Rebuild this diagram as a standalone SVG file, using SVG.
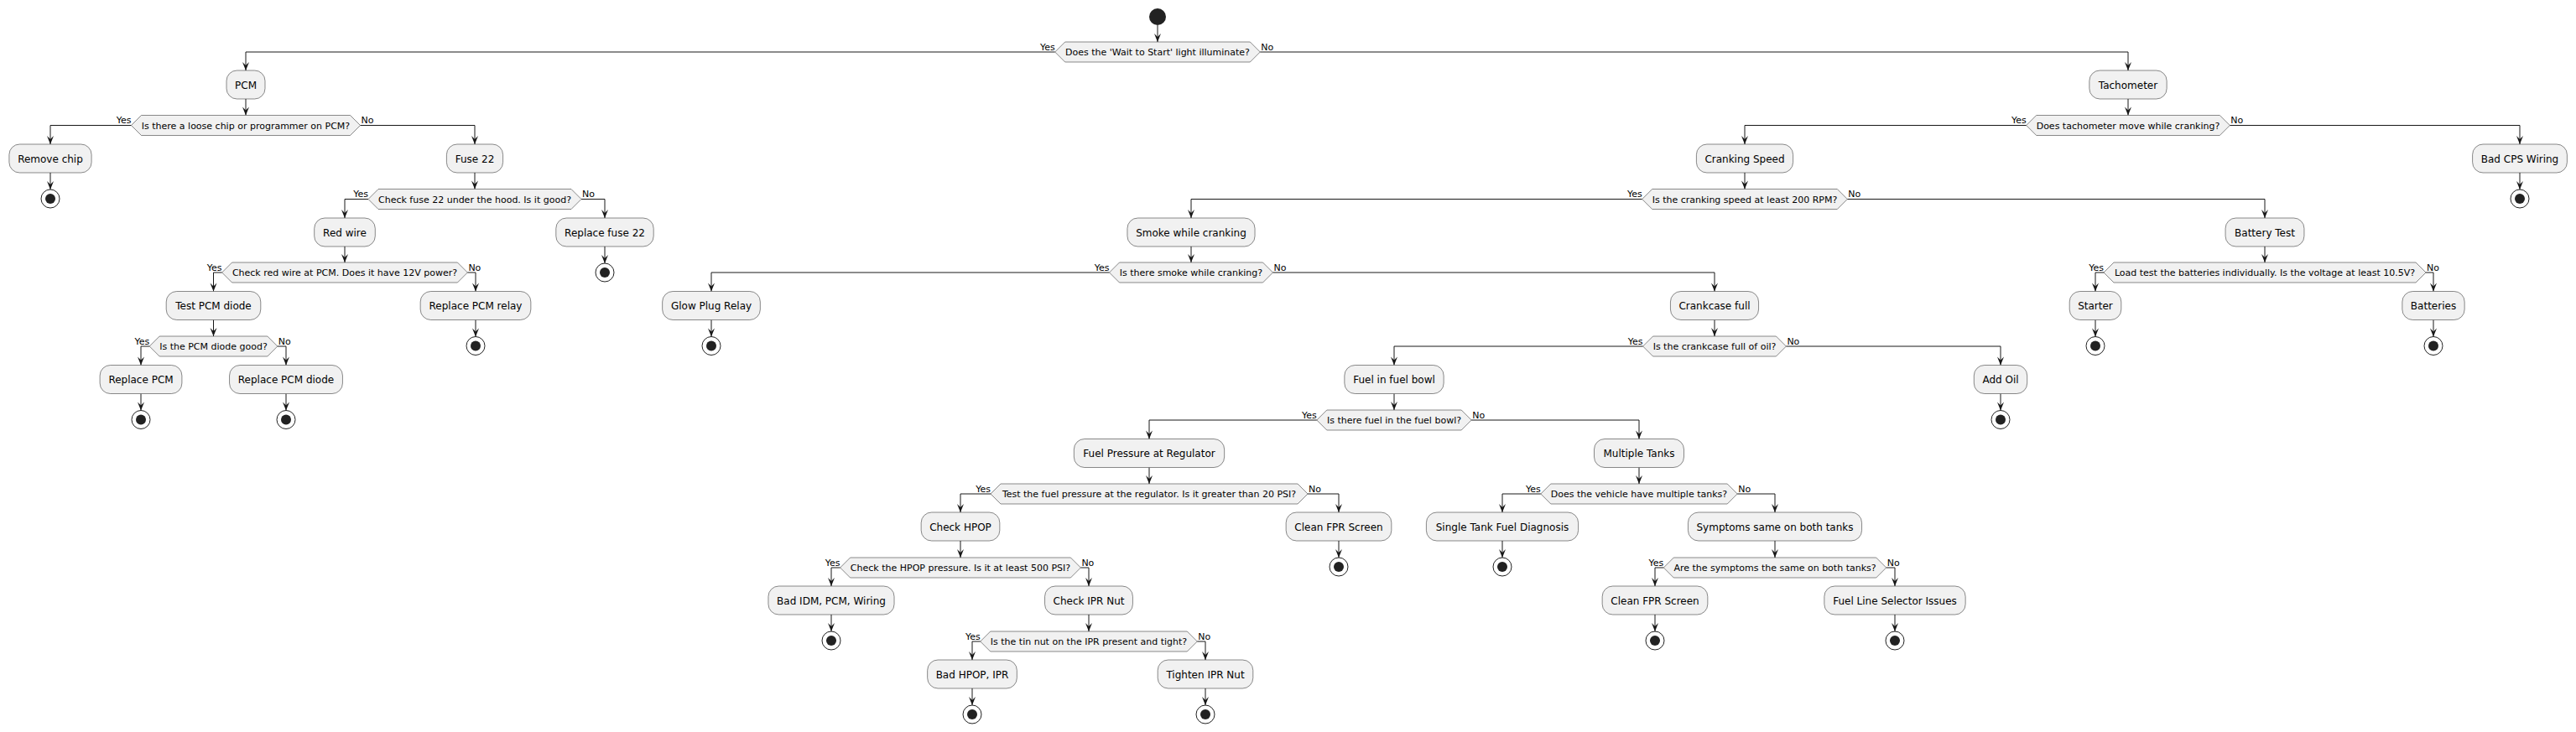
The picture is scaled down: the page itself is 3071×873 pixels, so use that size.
<svg xmlns="http://www.w3.org/2000/svg" width="3071" height="873" viewBox="0 0 3071 873">
<style>
.bx{fill:#F1F1F1;stroke:#181818;stroke-width:0.5}
.dm{fill:#F1F1F1;stroke:#181818;stroke-width:0.5}
.t{font-family:"DejaVu Sans","Liberation Sans",sans-serif;font-size:12px;fill:#000;text-anchor:middle}
.d{font-family:"DejaVu Sans","Liberation Sans",sans-serif;font-size:11px;fill:#000;text-anchor:middle}
.y{font-family:"DejaVu Sans","Liberation Sans",sans-serif;font-size:11px;fill:#000;text-anchor:end}
.n{font-family:"DejaVu Sans","Liberation Sans",sans-serif;font-size:11px;fill:#000;text-anchor:start}
.ln{fill:none;stroke:#181818;stroke-width:1;marker-end:url(#ah)}
.eo{fill:none;stroke:#222222;stroke-width:1}
.ei{fill:#222222}
</style>
<defs>
<marker id="ah" markerUnits="userSpaceOnUse" markerWidth="12" markerHeight="10" viewBox="-11 -5 12 10" refX="0" refY="0" orient="auto">
<path d="M0,0 L-10,-4 L-6,0 L-10,4 Z" fill="#181818"/>
</marker>
</defs>
<rect width="3071" height="873" fill="#FFFFFF"/>

<g id="connectors">
<path class="ln" d="M1380,30 V50"/>
<path class="ln" d="M1257.7,62 H293 V84"/><path class="ln" d="M1502.3,62 H2537 V84"/>
<path class="ln" d="M293,118 V137.5"/>
<path class="ln" d="M156.5,149.5 H60 V172"/><path class="ln" d="M429.5,149.5 H566 V172"/>
<path class="ln" d="M60,206 V226"/>
<path class="ln" d="M566,206 V225.5"/>
<path class="ln" d="M439,237.5 H411 V260"/><path class="ln" d="M693,237.5 H721 V260"/>
<path class="ln" d="M721,294 V314"/>
<path class="ln" d="M411,294 V313"/>
<path class="ln" d="M264.6,325 H254.5 V347.5"/><path class="ln" d="M557.4,325 H567 V347.5"/>
<path class="ln" d="M254.5,381.5 V401"/>
<path class="ln" d="M567,381.5 V401.5"/>
<path class="ln" d="M178.2,413 H168 V435.5"/><path class="ln" d="M330.8,413 H341 V435.5"/>
<path class="ln" d="M168,469.5 V489.5"/><path class="ln" d="M341,469.5 V489.5"/>
<path class="ln" d="M2537,118 V137.5"/>
<path class="ln" d="M2415.7,149.5 H2080 V172"/><path class="ln" d="M2658.3,149.5 H3004 V172"/>
<path class="ln" d="M3004,206 V226"/>
<path class="ln" d="M2080,206 V225.5"/>
<path class="ln" d="M1957.7,237.5 H1420 V260"/><path class="ln" d="M2202.3,237.5 H2700 V260"/>
<path class="ln" d="M1420,294 V313"/>
<path class="ln" d="M1322.5,325 H848 V347.5"/><path class="ln" d="M1517.5,325 H2044 V347.5"/>
<path class="ln" d="M2700,294 V313"/>
<path class="ln" d="M2508,325 H2498 V347.5"/><path class="ln" d="M2892,325 H2901 V347.5"/>
<path class="ln" d="M848,381.5 V401.5"/><path class="ln" d="M2498,381.5 V401.5"/><path class="ln" d="M2901,381.5 V401.5"/>
<path class="ln" d="M2044,381.5 V401"/>
<path class="ln" d="M1958.6,413 H1662 V435.5"/><path class="ln" d="M2129.4,413 H2385 V435.5"/>
<path class="ln" d="M2385,469.5 V489.5"/>
<path class="ln" d="M1662,469.5 V489"/>
<path class="ln" d="M1569.8,501 H1370 V523.5"/><path class="ln" d="M1754.2,501 H1954 V523.5"/>
<path class="ln" d="M1370,557.5 V577"/>
<path class="ln" d="M1181,589 H1145 V611"/><path class="ln" d="M1559,589 H1596 V611"/>
<path class="ln" d="M1954,557.5 V577"/>
<path class="ln" d="M1836.8,589 H1791 V611"/><path class="ln" d="M2071.2,589 H2116 V611"/>
<path class="ln" d="M1596,645 V665"/><path class="ln" d="M1791,645 V665"/>
<path class="ln" d="M1145,645 V665"/>
<path class="ln" d="M1001.6,677 H991 V699"/><path class="ln" d="M1288.4,677 H1298 V699"/>
<path class="ln" d="M2116,645 V665"/>
<path class="ln" d="M1983.3,677 H1973 V699"/><path class="ln" d="M2248.7,677 H2259 V699"/>
<path class="ln" d="M991,733 V753"/><path class="ln" d="M1973,733 V753"/><path class="ln" d="M2259,733 V753"/>
<path class="ln" d="M1298,733 V753"/>
<path class="ln" d="M1168.7,765 H1159 V787"/><path class="ln" d="M1427.3,765 H1437 V787"/>
<path class="ln" d="M1159,821 V841"/><path class="ln" d="M1437,821 V841"/>
<text class="y" x="1257.7" y="59.5">Yes</text><text class="n" x="1503.3" y="59.5">No</text>
<text class="y" x="156.5" y="147">Yes</text><text class="n" x="430.5" y="147">No</text>
<text class="y" x="2415.7" y="147">Yes</text><text class="n" x="2659.3" y="147">No</text>
<text class="y" x="439" y="235">Yes</text><text class="n" x="694" y="235">No</text>
<text class="y" x="1957.7" y="235">Yes</text><text class="n" x="2203.3" y="235">No</text>
<text class="y" x="264.6" y="322.5">Yes</text><text class="n" x="558.4" y="322.5">No</text>
<text class="y" x="1322.5" y="322.5">Yes</text><text class="n" x="1518.5" y="322.5">No</text>
<text class="y" x="2508" y="322.5">Yes</text><text class="n" x="2893" y="322.5">No</text>
<text class="y" x="178.2" y="410.5">Yes</text><text class="n" x="331.8" y="410.5">No</text>
<text class="y" x="1958.6" y="410.5">Yes</text><text class="n" x="2130.4" y="410.5">No</text>
<text class="y" x="1569.8" y="498.5">Yes</text><text class="n" x="1755.2" y="498.5">No</text>
<text class="y" x="1181" y="586.5">Yes</text><text class="n" x="1560" y="586.5">No</text>
<text class="y" x="1836.8" y="586.5">Yes</text><text class="n" x="2072.2" y="586.5">No</text>
<text class="y" x="1001.6" y="674.5">Yes</text><text class="n" x="1289.4" y="674.5">No</text>
<text class="y" x="1983.3" y="674.5">Yes</text><text class="n" x="2249.7" y="674.5">No</text>
<text class="y" x="1168.7" y="762.5">Yes</text><text class="n" x="1428.3" y="762.5">No</text>
</g>

<g id="start"><circle cx="1380" cy="20" r="10" fill="#222222"/></g>

<g id="d0"><polygon class="dm" points="1257.7,62 1269.7,50 1490.3,50 1502.3,62 1490.3,74 1269.7,74"/><text class="d" x="1380" y="66">Does the 'Wait to Start' light illuminate?</text></g>
<g id="d1"><polygon class="dm" points="156.5,149.5 168.5,137.5 417.5,137.5 429.5,149.5 417.5,161.5 168.5,161.5"/><text class="d" x="293" y="153.5">Is there a loose chip or programmer on PCM?</text></g>
<g id="d2"><polygon class="dm" points="2415.7,149.5 2427.7,137.5 2646.3,137.5 2658.3,149.5 2646.3,161.5 2427.7,161.5"/><text class="d" x="2537" y="153.5">Does tachometer move while cranking?</text></g>
<g id="d3"><polygon class="dm" points="439,237.5 451,225.5 681,225.5 693,237.5 681,249.5 451,249.5"/><text class="d" x="566" y="241.5">Check fuse 22 under the hood. Is it good?</text></g>
<g id="d4"><polygon class="dm" points="1957.7,237.5 1969.7,225.5 2190.3,225.5 2202.3,237.5 2190.3,249.5 1969.7,249.5"/><text class="d" x="2080" y="241.5">Is the cranking speed at least 200 RPM?</text></g>
<g id="d5"><polygon class="dm" points="264.6,325 276.6,313 545.4,313 557.4,325 545.4,337 276.6,337"/><text class="d" x="411" y="329">Check red wire at PCM. Does it have 12V power?</text></g>
<g id="d6"><polygon class="dm" points="1322.5,325 1334.5,313 1505.5,313 1517.5,325 1505.5,337 1334.5,337"/><text class="d" x="1420" y="329">Is there smoke while cranking?</text></g>
<g id="d7"><polygon class="dm" points="2508,325 2520,313 2880,313 2892,325 2880,337 2520,337"/><text class="d" x="2700" y="329">Load test the batteries individually. Is the voltage at least 10.5V?</text></g>
<g id="d8"><polygon class="dm" points="178.2,413 190.2,401 318.8,401 330.8,413 318.8,425 190.2,425"/><text class="d" x="254.5" y="417">Is the PCM diode good?</text></g>
<g id="d9"><polygon class="dm" points="1958.6,413 1970.6,401 2117.4,401 2129.4,413 2117.4,425 1970.6,425"/><text class="d" x="2044" y="417">Is the crankcase full of oil?</text></g>
<g id="d10"><polygon class="dm" points="1569.8,501 1581.8,489 1742.2,489 1754.2,501 1742.2,513 1581.8,513"/><text class="d" x="1662" y="505">Is there fuel in the fuel bowl?</text></g>
<g id="d11"><polygon class="dm" points="1181,589 1193,577 1547,577 1559,589 1547,601 1193,601"/><text class="d" x="1370" y="593">Test the fuel pressure at the regulator. Is it greater than 20 PSI?</text></g>
<g id="d12"><polygon class="dm" points="1836.8,589 1848.8,577 2059.2,577 2071.2,589 2059.2,601 1848.8,601"/><text class="d" x="1954" y="593">Does the vehicle have multiple tanks?</text></g>
<g id="d13"><polygon class="dm" points="1001.6,677 1013.6,665 1276.4,665 1288.4,677 1276.4,689 1013.6,689"/><text class="d" x="1145" y="681">Check the HPOP pressure. Is it at least 500 PSI?</text></g>
<g id="d14"><polygon class="dm" points="1983.3,677 1995.3,665 2236.7,665 2248.7,677 2236.7,689 1995.3,689"/><text class="d" x="2116" y="681">Are the symptoms the same on both tanks?</text></g>
<g id="d15"><polygon class="dm" points="1168.7,765 1180.7,753 1415.3,753 1427.3,765 1415.3,777 1180.7,777"/><text class="d" x="1298" y="769">Is the tin nut on the IPR present and tight?</text></g>

<g id="pcm"><rect class="bx" x="270" y="84" width="46" height="34" rx="12.5"/><text class="t" x="293" y="105.8">PCM</text></g>
<g id="tachometer"><rect class="bx" x="2490.85" y="84" width="92.3" height="34" rx="12.5"/><text class="t" x="2537" y="105.8">Tachometer</text></g>
<g id="remove-chip"><rect class="bx" x="10.9" y="172" width="98.2" height="34" rx="12.5"/><text class="t" x="60" y="193.8">Remove chip</text></g>
<g id="fuse-22"><rect class="bx" x="532.4" y="172" width="67.2" height="34" rx="12.5"/><text class="t" x="566" y="193.8">Fuse 22</text></g>
<g id="cranking-speed"><rect class="bx" x="2022.4" y="172" width="115.2" height="34" rx="12.5"/><text class="t" x="2080" y="193.8">Cranking Speed</text></g>
<g id="bad-cps"><rect class="bx" x="2947.6" y="172" width="112.8" height="34" rx="12.5"/><text class="t" x="3004" y="193.8">Bad CPS Wiring</text></g>
<g id="red-wire"><rect class="bx" x="374.7" y="260" width="72.6" height="34" rx="12.5"/><text class="t" x="411" y="281.8">Red wire</text></g>
<g id="replace-fuse"><rect class="bx" x="662.8" y="260" width="116.4" height="34" rx="12.5"/><text class="t" x="721" y="281.8">Replace fuse 22</text></g>
<g id="smoke"><rect class="bx" x="1343.95" y="260" width="152.1" height="34" rx="12.5"/><text class="t" x="1420" y="281.8">Smoke while cranking</text></g>
<g id="battery-test"><rect class="bx" x="2653.05" y="260" width="93.9" height="34" rx="12.5"/><text class="t" x="2700" y="281.8">Battery Test</text></g>
<g id="test-pcm-diode"><rect class="bx" x="198.2" y="347.5" width="112.6" height="34" rx="12.5"/><text class="t" x="254.5" y="369.3">Test PCM diode</text></g>
<g id="replace-pcm-relay"><rect class="bx" x="501.15" y="347.5" width="131.7" height="34" rx="12.5"/><text class="t" x="567" y="369.3">Replace PCM relay</text></g>
<g id="glow-plug"><rect class="bx" x="789.65" y="347.5" width="116.7" height="34" rx="12.5"/><text class="t" x="848" y="369.3">Glow Plug Relay</text></g>
<g id="crankcase"><rect class="bx" x="1991.45" y="347.5" width="105.1" height="34" rx="12.5"/><text class="t" x="2044" y="369.3">Crankcase full</text></g>
<g id="starter"><rect class="bx" x="2467.2" y="347.5" width="61.6" height="34" rx="12.5"/><text class="t" x="2498" y="369.3">Starter</text></g>
<g id="batteries"><rect class="bx" x="2863.85" y="347.5" width="74.3" height="34" rx="12.5"/><text class="t" x="2901" y="369.3">Batteries</text></g>
<g id="replace-pcm"><rect class="bx" x="119.1" y="435.5" width="97.8" height="34" rx="12.5"/><text class="t" x="168" y="457.3">Replace PCM</text></g>
<g id="replace-pcm-diode"><rect class="bx" x="273.55" y="435.5" width="134.9" height="34" rx="12.5"/><text class="t" x="341" y="457.3">Replace PCM diode</text></g>
<g id="fuel-bowl"><rect class="bx" x="1602.85" y="435.5" width="118.3" height="34" rx="12.5"/><text class="t" x="1662" y="457.3">Fuel in fuel bowl</text></g>
<g id="add-oil"><rect class="bx" x="2353.3" y="435.5" width="63.4" height="34" rx="12.5"/><text class="t" x="2385" y="457.3">Add Oil</text></g>
<g id="fpr"><rect class="bx" x="1280.35" y="523.5" width="179.3" height="34" rx="12.5"/><text class="t" x="1370" y="545.3">Fuel Pressure at Regulator</text></g>
<g id="multiple-tanks"><rect class="bx" x="1900.5" y="523.5" width="107" height="34" rx="12.5"/><text class="t" x="1954" y="545.3">Multiple Tanks</text></g>
<g id="check-hpop"><rect class="bx" x="1098.15" y="611" width="93.7" height="34" rx="12.5"/><text class="t" x="1145" y="632.8">Check HPOP</text></g>
<g id="clean-fpr-1"><rect class="bx" x="1533.15" y="611" width="125.7" height="34" rx="12.5"/><text class="t" x="1596" y="632.8">Clean FPR Screen</text></g>
<g id="single-tank"><rect class="bx" x="1700.4" y="611" width="181.2" height="34" rx="12.5"/><text class="t" x="1791" y="632.8">Single Tank Fuel Diagnosis</text></g>
<g id="symptoms"><rect class="bx" x="2012.45" y="611" width="207.1" height="34" rx="12.5"/><text class="t" x="2116" y="632.8">Symptoms same on both tanks</text></g>
<g id="bad-idm"><rect class="bx" x="915.95" y="699" width="150.1" height="34" rx="12.5"/><text class="t" x="991" y="720.8">Bad IDM, PCM, Wiring</text></g>
<g id="check-ipr"><rect class="bx" x="1245.55" y="699" width="104.9" height="34" rx="12.5"/><text class="t" x="1298" y="720.8">Check IPR Nut</text></g>
<g id="clean-fpr-2"><rect class="bx" x="1910.15" y="699" width="125.7" height="34" rx="12.5"/><text class="t" x="1973" y="720.8">Clean FPR Screen</text></g>
<g id="fuel-line"><rect class="bx" x="2174.85" y="699" width="168.3" height="34" rx="12.5"/><text class="t" x="2259" y="720.8">Fuel Line Selector Issues</text></g>
<g id="bad-hpop"><rect class="bx" x="1105.65" y="787" width="106.7" height="34" rx="12.5"/><text class="t" x="1159" y="808.8">Bad HPOP, IPR</text></g>
<g id="tighten"><rect class="bx" x="1380.2" y="787" width="113.6" height="34" rx="12.5"/><text class="t" x="1437" y="808.8">Tighten IPR Nut</text></g>

<g id="end-remove-chip"><circle class="eo" cx="60" cy="237" r="11"/><circle class="ei" cx="60" cy="237" r="6"/></g>
<g id="end-bad-cps"><circle class="eo" cx="3004" cy="237" r="11"/><circle class="ei" cx="3004" cy="237" r="6"/></g>
<g id="end-replace-fuse"><circle class="eo" cx="721" cy="325" r="11"/><circle class="ei" cx="721" cy="325" r="6"/></g>
<g id="end-pcm-relay"><circle class="eo" cx="567" cy="412.5" r="11"/><circle class="ei" cx="567" cy="412.5" r="6"/></g>
<g id="end-glow"><circle class="eo" cx="848" cy="412.5" r="11"/><circle class="ei" cx="848" cy="412.5" r="6"/></g>
<g id="end-starter"><circle class="eo" cx="2498" cy="412.5" r="11"/><circle class="ei" cx="2498" cy="412.5" r="6"/></g>
<g id="end-batteries"><circle class="eo" cx="2901" cy="412.5" r="11"/><circle class="ei" cx="2901" cy="412.5" r="6"/></g>
<g id="end-replace-pcm"><circle class="eo" cx="168" cy="500.5" r="11"/><circle class="ei" cx="168" cy="500.5" r="6"/></g>
<g id="end-pcm-diode"><circle class="eo" cx="341" cy="500.5" r="11"/><circle class="ei" cx="341" cy="500.5" r="6"/></g>
<g id="end-add-oil"><circle class="eo" cx="2385" cy="500.5" r="11"/><circle class="ei" cx="2385" cy="500.5" r="6"/></g>
<g id="end-clean-fpr-1"><circle class="eo" cx="1596" cy="676" r="11"/><circle class="ei" cx="1596" cy="676" r="6"/></g>
<g id="end-single-tank"><circle class="eo" cx="1791" cy="676" r="11"/><circle class="ei" cx="1791" cy="676" r="6"/></g>
<g id="end-bad-idm"><circle class="eo" cx="991" cy="764" r="11"/><circle class="ei" cx="991" cy="764" r="6"/></g>
<g id="end-clean-fpr-2"><circle class="eo" cx="1973" cy="764" r="11"/><circle class="ei" cx="1973" cy="764" r="6"/></g>
<g id="end-fuel-line"><circle class="eo" cx="2259" cy="764" r="11"/><circle class="ei" cx="2259" cy="764" r="6"/></g>
<g id="end-bad-hpop"><circle class="eo" cx="1159" cy="852" r="11"/><circle class="ei" cx="1159" cy="852" r="6"/></g>
<g id="end-tighten"><circle class="eo" cx="1437" cy="852" r="11"/><circle class="ei" cx="1437" cy="852" r="6"/></g>
</svg>
